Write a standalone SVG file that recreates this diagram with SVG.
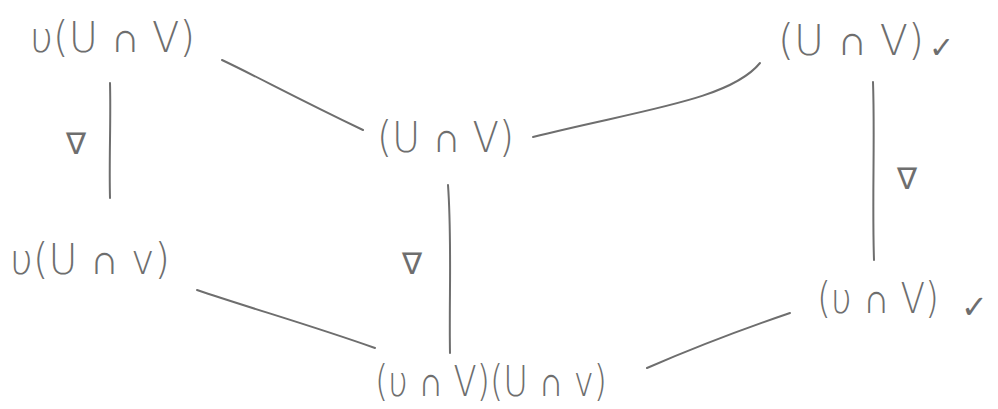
<svg xmlns="http://www.w3.org/2000/svg" width="998" height="409" viewBox="0 0 998 409">
<style>
.t{font-family:"DejaVu Sans","Liberation Sans",sans-serif;font-weight:200;fill:#6e6e6e;font-size:42px}
.n{font-family:"DejaVu Sans",sans-serif;fill:#6e6e6e;font-size:30px}
.c{font-family:"DejaVu Sans",sans-serif;fill:#6e6e6e}
.e{fill:none;stroke:#6e6e6e;stroke-width:2;stroke-linecap:round}
</style>
<rect width="998" height="409" fill="#fff"/>
<g id="connectors">
<path class="e" d="M222,60 C260,78 290,95 363,130"/>
<path class="e" d="M760,63 C730,100 640,110 533,137"/>
<path class="e" d="M110,83 C111,120 109,160 110,198"/>
<path class="e" d="M448,185 C452,240 449,300 450,353"/>
<path class="e" d="M873,82 C875,140 872,200 874,260"/>
<path class="e" d="M197,290 C250,308 310,325 375,348"/>
<path class="e" d="M790,313 C740,330 700,345 647,368"/>
<text class="n" x="76" y="154" text-anchor="middle">∇</text>
<text class="n" x="412" y="274" text-anchor="middle">∇</text>
<text class="n" x="907" y="189" text-anchor="middle">∇</text>
</g>
<g id="n_tl"><text class="t" x="30" y="52" textLength="165" lengthAdjust="spacingAndGlyphs">υ(U ∩ V)</text></g>
<g id="n_tr"><text class="t" x="778" y="55" textLength="146" lengthAdjust="spacingAndGlyphs">(U ∩ V)</text><text class="c" x="929" y="58" font-size="30">✓</text></g>
<g id="n_c"><text class="t" x="377" y="152" textLength="137" lengthAdjust="spacingAndGlyphs">(U ∩ V)</text></g>
<g id="n_bl"><text class="t" x="10" y="274" textLength="160" lengthAdjust="spacingAndGlyphs">υ(U ∩ v)</text></g>
<g id="n_br"><text class="t" x="817" y="313" textLength="122" lengthAdjust="spacingAndGlyphs">(υ ∩ V)</text><text class="c" x="961" y="318" font-size="32">✓</text></g>
<g id="n_b"><text class="t" x="375" y="396" textLength="232" lengthAdjust="spacingAndGlyphs">(υ ∩ V)(U ∩ v)</text></g>
</svg>
